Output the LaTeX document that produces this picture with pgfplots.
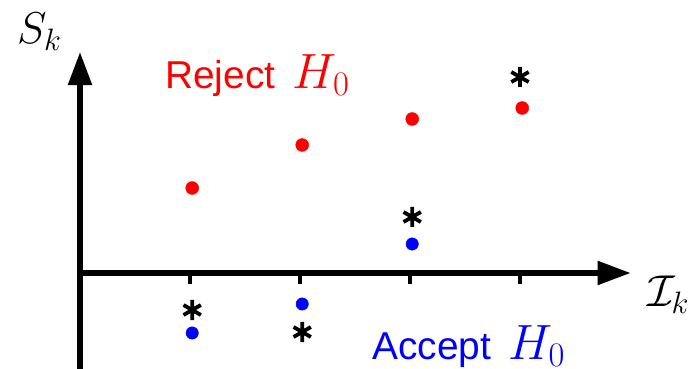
\documentclass[border=0pt]{standalone}
\usepackage{fontspec}
\setmainfont{Liberation Sans}
\usepackage{graphicx}
\DeclareMathSizes{24.88}{24.88}{17.28}{14.4}
\usepackage{pgfplots}
\pgfplotsset{compat=1.18}
\usetikzlibrary{arrows.meta}
\newcommand{\bigmath}[2]{\scalebox{#1}{\fontsize{24.88}{30}\selectfont$#2$}}
\begin{document}
\begin{tikzpicture}
\begin{axis}[
  x=110bp, y=1bp,
  axis lines=middle,
  xmin=0, xmax=5.006, ymin=-96, ymax=221,
  enlargelimits=false,
  clip=false,
  axis line style={line width=5.3bp},
  every inner x axis line/.append style={-{Triangle[length=33bp,width=23bp]}},
  every inner y axis line/.append style={-{Triangle[length=33bp,width=23bp]}},
  xtick={1,2,3,4}, xticklabels={},
  ytick=\empty,
  tick align=outside,
  major tick length=11bp,
  tick style={line width=4.7bp, black},
]
\addplot[red, only marks, mark=*, mark size=6.5bp, mark options={draw=red, fill=red}]
  coordinates {(1.02,85) (2.02,128) (3.02,154) (4.02,165)};
\addplot[blue, only marks, mark=*, mark size=6.2bp, mark options={draw=blue, fill=blue}]
  coordinates {(1.02,-60) (2.02,-31) (3.02,29)};
\addplot[black, only marks, mark=asterisk, mark size=10bp, mark options={line width=3.8bp, black}]
  coordinates {(1.02,-37) (2.02,-59) (3.02,56) (4.0,196)};
\node[anchor=base west, inner sep=0pt] at (axis cs:-0.573,229)
  {\bigmath{1.8}{S_k}};
\node[anchor=base west, inner sep=0pt, text=red] at (axis cs:0.773,185)
  {\fontsize{39}{44}\selectfont Reject\hspace{0.45em}\bigmath{2.0}{H_0}};
\node[anchor=base west, inner sep=0pt, text=blue] at (axis cs:2.655,-86)
  {\fontsize{39}{44}\selectfont Accept\hspace{0.45em}\bigmath{2.0}{H_0}};
\node[anchor=base west, inner sep=0pt] at (axis cs:5.155,-34)
  {\bigmath{1.8}{\mathcal{I}_k}};
\coordinate (bl) at (axis cs:-0.72727,-96);
\coordinate (tr) at (axis cs:5.6,273);
\end{axis}
\pgfresetboundingbox
\path[use as bounding box] (bl) rectangle (tr);
\end{tikzpicture}
\end{document}
